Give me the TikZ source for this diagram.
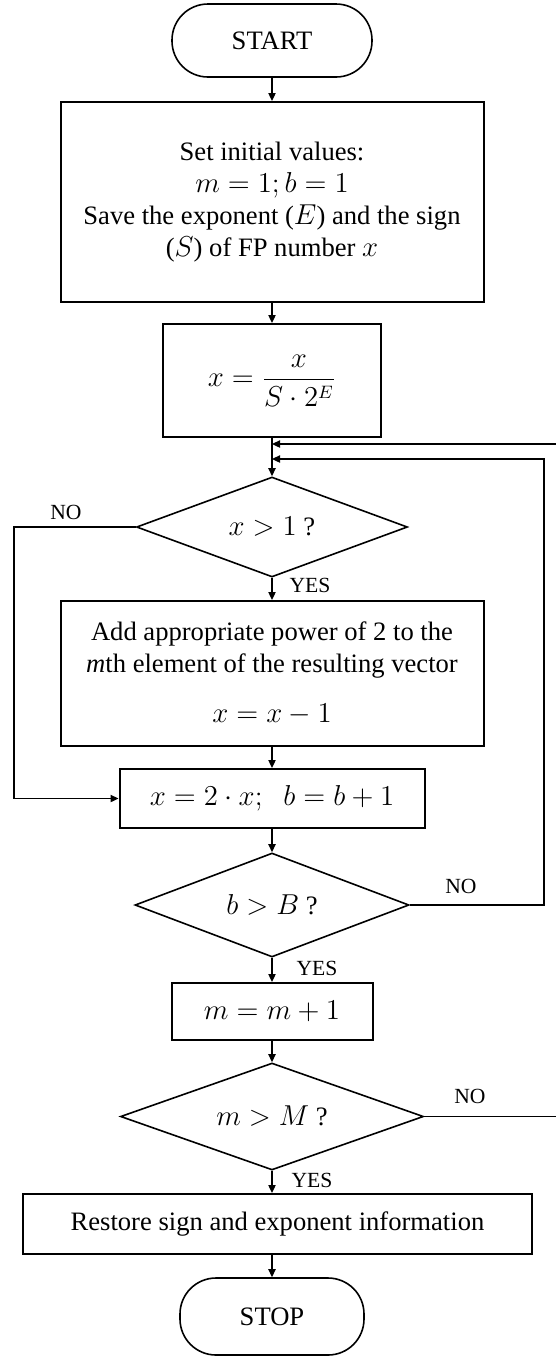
\documentclass[tikz,border=0pt]{standalone}
\usepackage{fontspec}
\setmainfont{Liberation Serif}
\usetikzlibrary{shapes.geometric,arrows.meta}
\begin{document}
\begin{tikzpicture}[x=0.5pt,y=-0.5pt,
  every node/.style={font=\fontsize{13.3}{15.9}\selectfont},
  box/.style={draw,line width=1pt,align=center,inner sep=0pt},
  term/.style={draw,line width=0.8pt,rounded corners=18pt,inner sep=0pt},
  dec/.style={draw,diamond,line width=0.8pt,inner sep=0pt,aspect=2.7},
  conn/.style={line width=0.8pt,-{Triangle[length=4pt,width=3.6pt]}},
  lbl/.style={font=\fontsize{10.8}{12}\selectfont,inner sep=0pt}]
\useasboundingbox (0,0) rectangle (556,1357);
\clip (0,0) rectangle (556,1357);

\node[term,minimum width=100pt,minimum height=36.5pt] (start) at (272,40.5) {START};
\node[box,minimum width=211.5pt,minimum height=100pt] (init) at (272,202)
  {Set initial values:\\ $m=1; b=1$\\ Save the exponent ($E$) and the sign\\ ($S$) of FP number $x$};
\node[box,minimum width=109pt,minimum height=56.5pt] (norm) at (272,380.5)
  {$\displaystyle x=\frac{x}{S\cdot 2^E}$};
\coordinate (j1) at (272,444);
\coordinate (j2) at (272,459);
\node[dec,minimum width=135.5pt,minimum height=50pt] (d1) at (272,527) {$x>1$ ?};
\node[box,minimum width=211.5pt,minimum height=72.5pt] (add) at (272,673.5)
  {Add appropriate power of 2 to the\\ \textit{m}th element of the resulting vector\\[9pt] $x=x-1$};
\node[box,minimum width=152.5pt,minimum height=29.5pt] (dbl) at (272,798.5)
  {$x=2\cdot x;\;\; b=b+1$};
\node[dec,minimum width=137pt,minimum height=52pt] (d2) at (272,905) {$b>B$ ?};
\node[box,minimum width=100.5pt,minimum height=28.5pt] (inc) at (272,1011.5) {$m=m+1$};
\node[dec,minimum width=151.5pt,minimum height=53.5pt] (d3) at (272,1116.5) {$m>M$ ?};
\node[box,minimum width=254.5pt,minimum height=30pt] (rest) at (277.5,1224)
  {Restore sign and exponent information};
\node[term,minimum width=92pt,minimum height=38.5pt] (stop) at (272,1316.5) {STOP};

\node[lbl] (no1) at (66,512) {NO};
\node[lbl] (yes1) at (310,585) {YES};
\node[lbl] (no2) at (461,886) {NO};
\node[lbl] (yes2) at (317,968) {YES};
\node[lbl] (no3) at (470,1096) {NO};
\node[lbl] (yes3) at (312,1180) {YES};

\coordinate (l1) at (14,0);
\coordinate (r1) at (544,0);
\coordinate (r2) at (566,0);

\draw[conn] (start) -- (init);
\draw[conn] (init) -- (norm);
\draw[conn] (norm) -- (d1);
\draw[conn] (d1) -- (add);
\draw[conn] (add) -- (dbl);
\draw[conn] (dbl) -- (d2);
\draw[conn] (d2) -- (inc);
\draw[conn] (inc) -- (d3);
\draw[conn] (d3.south) -- (d3.south |- rest.north);
\draw[conn] (rest.south -| stop.north) -- (stop.north);

\draw[conn] (d1.west) -- (d1.west -| l1) |- (dbl.west);
\draw[conn] (d2.east) -- (d2.east -| r1) |- (j2);
\draw[conn] (d3.east) -- (d3.east -| r2) |- (j1);
\end{tikzpicture}
\end{document}
